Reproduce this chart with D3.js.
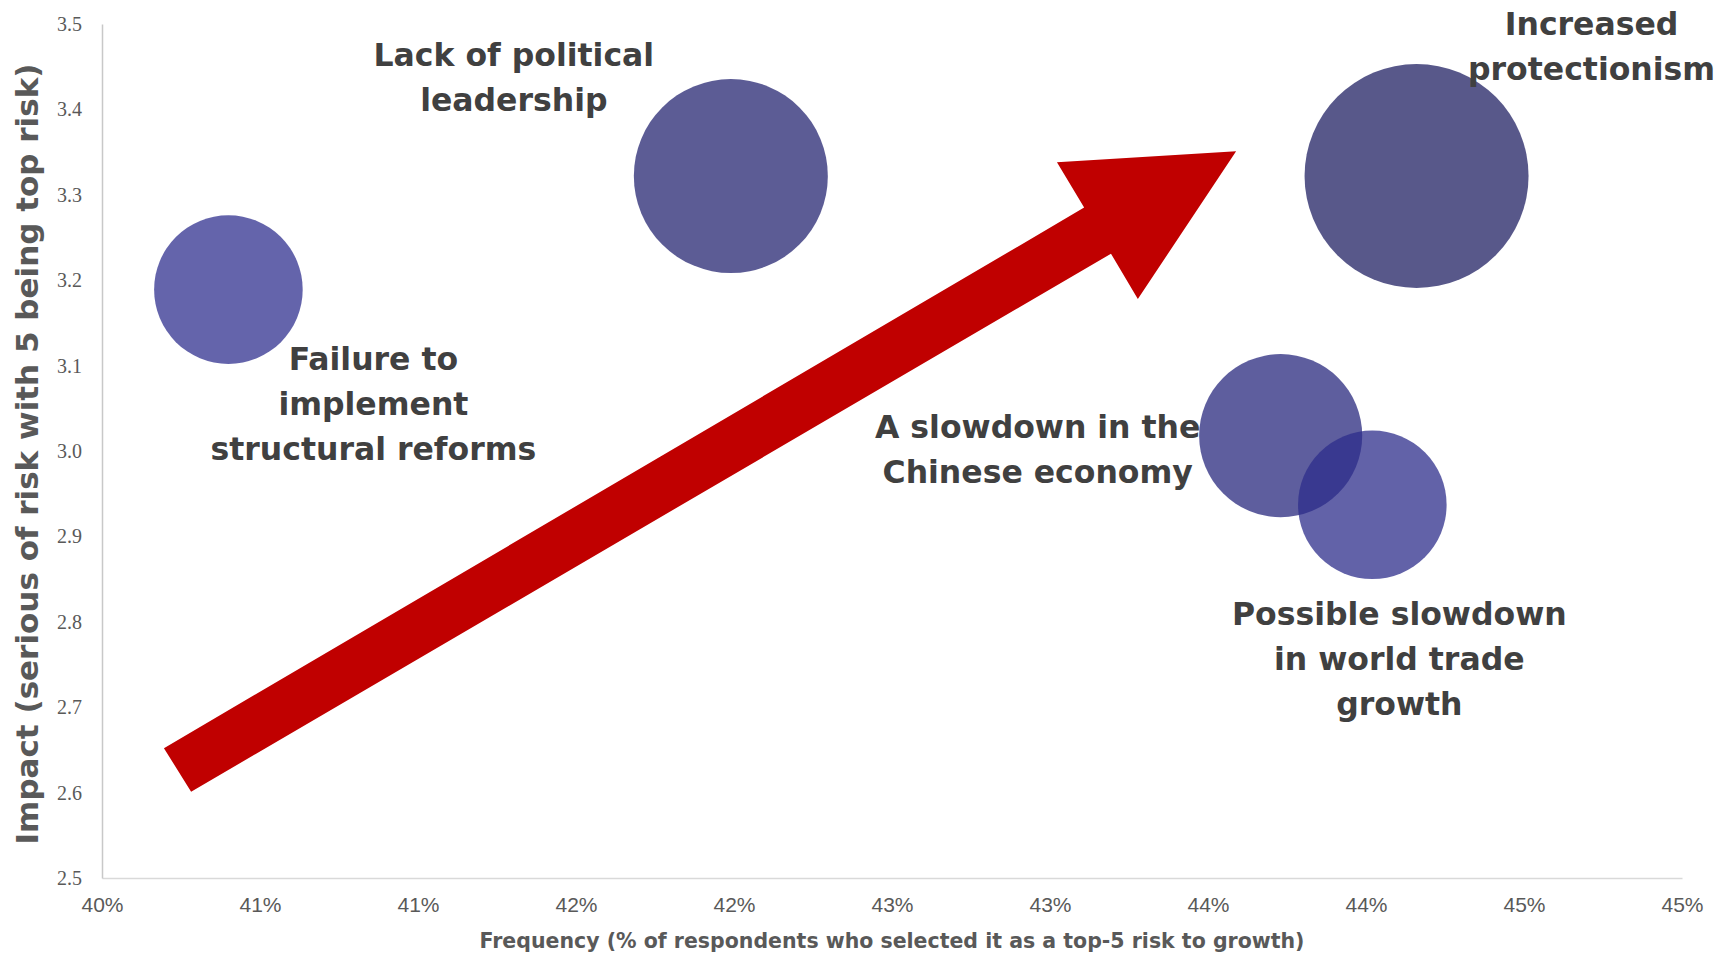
<!DOCTYPE html>
<html>

<head>
  <meta charset="utf-8">
  <title>Risks to growth</title>
  <script src="https://cdn.jsdelivr.net/npm/d3@7"></script>
  <style>
    body { margin: 0; background: #fff; }
  </style>
</head>

<body>
  <script type="text/javascript">
    // Data
    var risks = ["Failure to implement structural reforms", "Lack of political leadership",
      "Increased protectionism", "A slowdown in the Chinese economy", "Possible slowdown in world trade growth"];
    var frequency = [0.4040, 0.4199, 0.4416, 0.4373, 0.4402];
    var impact = [3.189, 3.322, 3.322, 3.018, 2.937];
    var bubbleSize = [44, 75, 100, 53, 44];
    var labelLines = [
      ["Failure to", "implement", "structural reforms"],
      ["Lack of political", "leadership"],
      ["Increased", "protectionism"],
      ["A slowdown in the", "Chinese economy"],
      ["Possible slowdown", "in world trade", "growth"]
    ];

    var xTicks = [0.400, 0.405, 0.410, 0.415, 0.420, 0.425, 0.430, 0.435, 0.440, 0.445, 0.450];
    var xTickLabels = ["40%", "41%", "41%", "42%", "42%", "43%", "43%", "44%", "44%", "45%", "45%"];
    var yTicks = [2.5, 2.6, 2.7, 2.8, 2.9, 3.0, 3.1, 3.2, 3.3, 3.4, 3.5];

    // red trend arrow, in data units (frequency, impact)
    var arrowShape = [
      [0.40196, 2.652], [0.43108, 3.285], [0.43022, 3.338], [0.43589, 3.351],
      [0.43278, 3.178], [0.43193, 3.231], [0.40282, 2.601]
    ];

    //Width and height
    var w = 1715;
    var h = 954;

    var colors = ["#30308f", "#262672", "#202063", "#28287e", "#2e2e8b"];
    // label offsets from bubble centre (px)
    var labelOffset = [[145, 69], [-217, -121], [175, -152], [-243, -9], [27, 109]];

    var x = d3.scaleLinear().domain([0.40, 0.45]).range([102, 1682]);
    var y = d3.scaleLinear().domain([2.5, 3.5]).range([878, 24]);
    var r = d3.scaleSqrt().domain([0, 100]).range([0, 112]);

    var svg = d3.select("body")
      .append("svg")
      .attr("width", w)
      .attr("height", h);

    // axes
    var xAxis = svg.append("g")
      .attr("transform", "translate(0," + y(2.5) + ")")
      .call(d3.axisBottom(x).tickValues(xTicks).tickSize(0)
        .tickFormat(function(d, i) { return xTickLabels[i]; }));
    xAxis.select(".domain").attr("stroke", "#d9d9d9").attr("stroke-width", 1.5);
    xAxis.selectAll("text")
      .attr("y", 27)
      .attr("dy", "0.32em")
      .style("font-family", "'Liberation Sans', Arial, sans-serif")
      .style("font-size", "21px")
      .style("fill", "#595959");

    var yAxis = svg.append("g")
      .attr("transform", "translate(" + x(0.40) + ",0)")
      .call(d3.axisLeft(y).tickValues(yTicks).tickSize(0).tickFormat(d3.format(".1f")));
    yAxis.select(".domain").attr("stroke", "#c8c8c8").attr("stroke-width", 1.5);
    yAxis.selectAll("text")
      .attr("x", -20)
      .style("font-family", "'Liberation Serif', serif")
      .style("font-size", "20px")
      .style("fill", "#595959");

    // axis titles
    svg.append("text")
      .attr("x", (x(0.40) + x(0.45)) / 2)
      .attr("y", 941)
      .attr("text-anchor", "middle")
      .attr("dominant-baseline", "central")
      .style("font-family", "'DejaVu Sans', sans-serif")
      .style("font-weight", "bold")
      .style("font-size", "20.5px")
      .style("fill", "#595959")
      .text("Frequency (% of respondents who selected it as a top-5 risk to growth)");

    svg.append("text")
      .attr("transform", "translate(27," + 454 + ") rotate(-90)")
      .attr("text-anchor", "middle")
      .attr("dominant-baseline", "central")
      .style("font-family", "'DejaVu Sans', sans-serif")
      .style("font-weight", "bold")
      .style("font-size", "31px")
      .style("fill", "#595959")
      .text("Impact (serious of risk with 5 being top risk)");

    // bubbles
    var idx = d3.range(risks.length);
    svg.append("g").selectAll("circle")
      .data(idx)
      .enter()
      .append("circle")
      .attr("cx", function(i) { return x(frequency[i]); })
      .attr("cy", function(i) { return y(impact[i]); })
      .attr("r", function(i) { return r(bubbleSize[i]); })
      .attr("fill", function(i) { return colors[i]; })
      .attr("fill-opacity", 0.75);

    // data labels
    var labels = svg.append("g").selectAll("text")
      .data(idx)
      .enter()
      .append("text")
      .attr("text-anchor", "middle")
      .style("font-family", "'DejaVu Sans', sans-serif")
      .style("font-weight", "bold")
      .style("font-size", "31.5px")
      .style("fill", "#404040");

    labels.selectAll("tspan")
      .data(function(i) {
        return labelLines[i].map(function(t, k) { return { t: t, k: k, i: i }; });
      })
      .enter()
      .append("tspan")
      .attr("x", function(d) { return x(frequency[d.i]) + labelOffset[d.i][0]; })
      .attr("y", function(d) { return y(impact[d.i]) + labelOffset[d.i][1] + d.k * 45; })
      .attr("dominant-baseline", "central")
      .text(function(d) { return d.t; });

    // trend arrow
    svg.append("path")
      .datum(arrowShape)
      .attr("d", d3.line()
        .x(function(d) { return x(d[0]); })
        .y(function(d) { return y(d[1]); })
        .curve(d3.curveLinearClosed))
      .attr("fill", "#c00000");
  </script>

</body>

</html>
